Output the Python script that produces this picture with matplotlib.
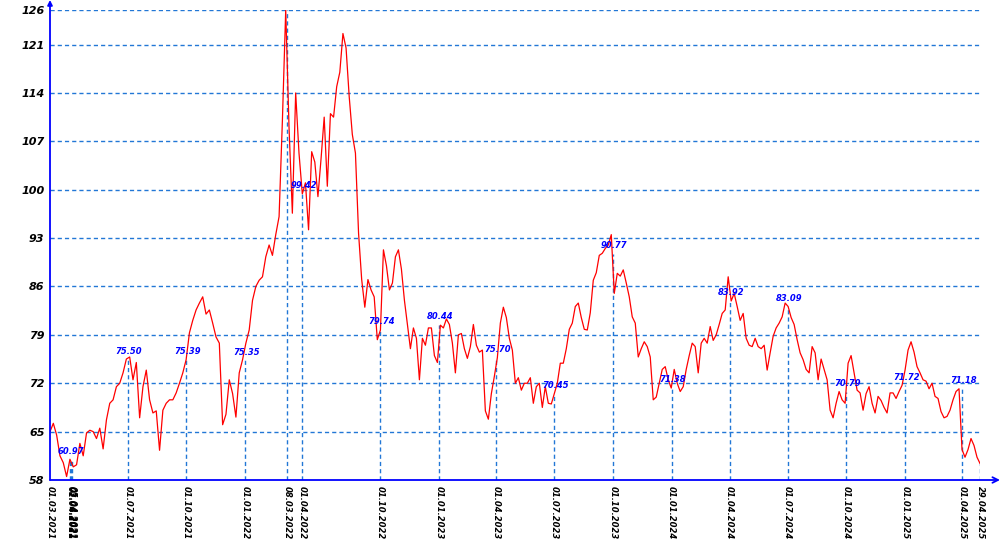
import numpy as np
import pandas as pd
import matplotlib
matplotlib.use('Agg')
import matplotlib.pyplot as plt
import matplotlib.dates as mdates

# price series, three stretches (the source has thinner data Apr-Oct 2022)
seg_a = [65.0, 66.2, 64.5, 61.5, 60.5, 58.5, 61.0, 59.9, 60.2, 63.3, 61.5, 64.8, 65.2, 65.0, 64.0,
         65.5, 62.5, 66.7, 69.1, 69.6, 71.5, 72.0, 73.5, 75.5, 75.8, 72.5, 75.0, 67.0, 71.5, 73.9,
         69.6, 67.7, 68.0, 62.3, 68.1, 69.1, 69.6, 69.6, 70.6, 72.0, 73.5, 75.4, 79.3, 81.1, 82.6,
         83.6, 84.5, 82.0, 82.6, 80.7, 78.7, 77.8, 66.0, 67.5, 72.5, 70.5, 67.1, 73.5, 75.4, 77.8,
         79.7, 84.0, 86.0, 86.9, 87.4, 90.3, 92.0, 90.5, 93.5, 96.1, 110.0, 126.0, 109.0, 96.6,
         114.0, 105.3, 99.4]
seg_b = [101.0, 94.2, 105.5, 104.0, 99.0, 104.5, 110.5, 100.5, 111.0, 110.5, 114.9, 117.0, 122.6,
         120.5, 113.5, 108.0, 105.3, 93.7, 87.0, 83.0, 87.0, 85.5, 84.5, 78.3, 79.7]
seg_c = [91.3, 89.0, 85.5, 86.5, 90.3, 91.3, 88.5, 84.0, 80.5, 77.0, 80.0, 78.5, 72.5, 78.5, 77.5,
         80.0, 80.0, 76.0, 75.0, 80.4, 80.0, 81.3, 80.5, 77.8, 73.5, 79.0, 79.2, 77.0, 75.6, 77.3,
         80.5, 77.5, 76.5, 76.8, 68.0, 66.8, 70.5, 73.0, 75.7, 80.7, 83.0, 81.5, 78.5, 76.8, 72.0,
         72.8, 71.0, 72.0, 72.0, 72.8, 69.1, 71.5, 72.0, 68.5, 71.5, 69.1, 69.0, 70.5, 72.0, 74.9,
         74.9, 77.0, 79.8, 80.7, 83.1, 83.6, 81.5, 79.8, 79.7, 82.2, 86.9, 88.0, 90.5, 90.8, 91.5,
         92.0, 93.5, 85.0, 87.9, 87.5, 88.4, 86.5, 84.5, 81.6, 80.7, 75.8, 77.0, 78.0, 77.3, 75.8,
         69.6, 70.0, 72.0, 74.0, 74.4, 72.5, 71.3, 74.0, 72.0, 70.8, 71.5, 74.0, 76.0, 77.8, 77.3,
         73.5, 77.8, 78.5, 77.8, 80.2, 78.2, 79.0, 80.5, 82.1, 82.6, 87.4, 83.9, 85.0, 83.1, 81.1,
         82.1, 78.5, 77.5, 77.3, 78.5, 77.3, 77.0, 77.5, 73.9, 76.4, 78.8, 80.0, 80.7, 81.6, 83.6,
         83.1, 81.5, 80.5, 78.3, 76.4, 75.4, 74.0, 73.5, 77.3, 76.4, 72.5, 75.5, 74.0, 72.5, 68.1,
         67.0, 69.1, 70.8, 69.6, 69.1, 74.9, 76.0, 73.5, 71.0, 70.6, 68.1, 70.5, 71.5, 69.1, 67.7,
         70.1, 69.5, 68.5, 67.7, 70.6, 70.6, 69.8, 70.8, 71.7, 73.9, 76.8, 78.0, 76.5, 74.4, 73.5,
         72.5, 72.3, 71.2, 72.0, 70.1, 69.8, 67.9, 67.0, 67.2, 68.1, 69.6, 70.8, 71.2, 62.4, 61.3,
         62.4, 64.0, 63.0, 61.3, 60.4]

seg_bounds = ['2021-03-01', '2022-04-01', '2022-10-01', '2025-04-29']

# marked dates and their values (None = no value text)
mark_dates = ['01.03.2021', '01.04.2021', '03.04.2021', '05.04.2021', '01.07.2021', '01.10.2021',
              '01.01.2022', '08.03.2022', '01.04.2022', '01.10.2022', '01.01.2023', '01.04.2023',
              '01.07.2023', '01.10.2023', '01.01.2024', '01.04.2024', '01.07.2024', '01.10.2024',
              '01.01.2025', '01.04.2025', '29.04.2025']
mark_values = [None, 60.97, 60.97, 60.97, 75.50, 75.39, 75.35, 126.0, 99.42, 79.74, 80.44, 75.70,
               70.45, 90.77, 71.38, 83.92, 83.09, 70.79, 71.72, 71.18, 60.4]
mark_text = [None, '60.97', None, None, '75.50', '75.39', '75.35', None, '99.42', '79.74', '80.44',
             '75.70', '70.45', '90.77', '71.38', '83.92', '83.09', '70.79', '71.72', '71.18', None]

yticks = [58, 65, 72, 79, 86, 93, 100, 107, 114, 121, 126]

# dates for the points
b = pd.to_datetime(seg_bounds)
dates = pd.DatetimeIndex(
    list(pd.date_range(b[0], b[1], periods=len(seg_a)))
    + list(pd.date_range(b[1], b[2], periods=len(seg_b) + 1)[1:])
    + list(pd.date_range(b[2], b[3], periods=len(seg_c) + 1)[1:]))
values = np.array(seg_a + seg_b + seg_c)

# thin stretch is drawn narrower, like the source
t0, t1, t2, t3 = mdates.date2num(b)
w = 0.67


def fwd(x):
    x = np.asarray(x, float)
    return np.where(x < t1, x - t0,
                    np.where(x < t2, (t1 - t0) + (x - t1) * w,
                             (t1 - t0) + (t2 - t1) * w + (x - t2)))


def inv(y):
    y = np.asarray(y, float)
    ya = t1 - t0
    yb = ya + (t2 - t1) * w
    return np.where(y < ya, y + t0,
                    np.where(y < yb, t1 + (y - ya) / w, t2 + (y - yb)))


blue = '#0000ff'
grid_blue = '#2277d6'
fnt = dict(family='DejaVu Sans', weight='bold', style='italic')

fig = plt.figure(figsize=(10, 5.5), dpi=100)
ax = fig.add_axes([0.05, 70 / 550, 0.93, 470 / 550])
ax.set_xscale('function', functions=(fwd, inv))

ax.plot(dates, values, color='red', lw=0.9, zorder=3)

ax.set_xlim(b[0], b[3])
ax.set_ylim(58, 126)

for y in yticks[1:]:
    ax.axhline(y, color=grid_blue, lw=1, dashes=(3, 2.2), zorder=1)

md = pd.to_datetime(mark_dates, format='%d.%m.%Y')
for d, v, t in zip(md, mark_values, mark_text):
    if v is not None:
        ax.plot([d, d], [58, v], color=grid_blue, lw=1, dashes=(3, 2.2), zorder=2)
    if t is not None:
        ax.annotate(t, (d, v), xytext=(1, 2.5), textcoords='offset points', ha='center',
                    va='bottom', color=blue, fontsize=6, zorder=4, **fnt)

ax.set_xticks(md)
ax.set_xticklabels(mark_dates, rotation=270, fontsize=6, **fnt)
ax.set_yticks(yticks)
ax.set_yticklabels([str(v) for v in yticks], fontsize=8, **fnt)
ax.tick_params(axis='both', length=0, pad=4, colors='black')
for lbl in ax.get_xticklabels():
    lbl.set_va('top')
    lbl.set_ha('center')

for s in ax.spines.values():
    s.set_visible(False)

# axis lines with arrows
ax.annotate('', xy=(1.0215, 0), xytext=(0, 0), xycoords='axes fraction',
            arrowprops=dict(arrowstyle='->', color=blue, lw=1.3, mutation_scale=10,
                            shrinkA=0, shrinkB=0), annotation_clip=False)
ax.annotate('', xy=(0, 1.0213), xytext=(0, 0), xycoords='axes fraction',
            arrowprops=dict(arrowstyle='-|>', color=blue, lw=1.3, mutation_scale=7,
                            shrinkA=0, shrinkB=0), annotation_clip=False)

fig.savefig('out.png', dpi=100)
